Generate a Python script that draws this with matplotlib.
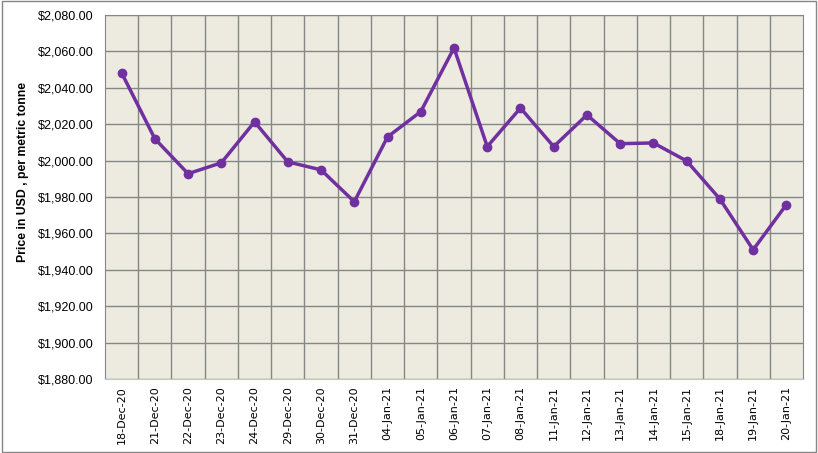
import matplotlib
matplotlib.use("Agg")
import matplotlib.pyplot as plt
from matplotlib.ticker import FuncFormatter, MultipleLocator
from matplotlib.patches import Rectangle

dates = ["18-Dec-20", "21-Dec-20", "22-Dec-20", "23-Dec-20", "24-Dec-20",
         "29-Dec-20", "30-Dec-20", "31-Dec-20", "04-Jan-21", "05-Jan-21",
         "06-Jan-21", "07-Jan-21", "08-Jan-21", "11-Jan-21", "12-Jan-21",
         "13-Jan-21", "14-Jan-21", "15-Jan-21", "18-Jan-21", "19-Jan-21",
         "20-Jan-21"]
prices = [2048.2, 2012.0, 1992.8, 1998.8, 2021.3, 1999.3, 1994.9, 1977.4,
          2013.0, 2026.9, 2061.9, 2007.7, 2028.9, 2007.7, 2025.1, 2009.3,
          2009.7, 1999.8, 1978.9, 1951.0, 1975.8]
y_min, y_max, y_step = 1880, 2080, 20
y_label = "Price in USD , per metric tonne"

fig = plt.figure(figsize=(8.18, 4.53), dpi=100)
fig.patches.append(Rectangle((0.002, 0.003), 0.996, 0.994, transform=fig.transFigure,
                             fill=False, edgecolor="#868686", linewidth=1.0))
ax = fig.add_axes([105/818, 1 - 379/453, 698/818, 364/453])
ax.set_facecolor("#EDEBE0")

n = len(dates)
x = list(range(n))
ax.plot(x, prices, color="#7030A0", linewidth=2.5, marker="o", markersize=6,
        solid_joinstyle="round", zorder=3)

ax.set_xlim(-0.5, n - 0.5)
ax.set_ylim(y_min, y_max)
ax.yaxis.set_major_locator(MultipleLocator(y_step))
ax.yaxis.set_major_formatter(FuncFormatter(lambda v, p: f"${v:,.2f}"))
ax.grid(axis="y", color="#868686", linewidth=1.0)
for b in range(1, n):
    ax.axvline(b - 0.5, color="#868686", linewidth=1.0, zorder=1)
ax.set_axisbelow(True)

ax.set_xticks(x)
ax.set_xticklabels(dates, rotation=90, fontsize=8, family="DejaVu Sans")
ax.tick_params(axis="x", length=0, pad=5)
ax.tick_params(axis="y", length=0, pad=8, labelsize=9)
for lab in ax.get_yticklabels():
    lab.set_family("Liberation Sans")

for s in ["top", "right", "left"]:
    ax.spines[s].set_color("#868686")
ax.spines["bottom"].set_color("#B9C9DA")

fig.text(23/818, 1 - 172/453, y_label, rotation=90, ha="center", va="center",
         fontsize=8.8, fontweight="bold", family="Liberation Sans")

fig.savefig("out.png", dpi=100)
